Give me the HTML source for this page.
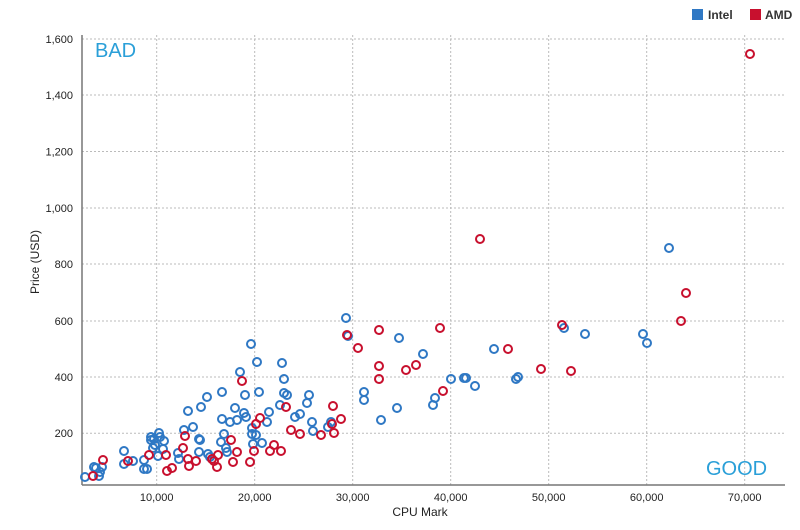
<!DOCTYPE html>
<html><head><meta charset="utf-8"><style>
html,body{margin:0;padding:0;background:#fff;}
svg{display:block;font-family:"Liberation Sans",sans-serif;}
</style></head><body>
<svg width="800" height="530" viewBox="0 0 800 530" xmlns="http://www.w3.org/2000/svg">
<g stroke="#bbb" stroke-width="1" stroke-dasharray="2,2">
<line x1="82" y1="39" x2="785" y2="39"/><line x1="82" y1="95" x2="785" y2="95"/>
<line x1="82" y1="151.5" x2="785" y2="151.5"/><line x1="82" y1="208" x2="785" y2="208"/>
<line x1="82" y1="264" x2="785" y2="264"/><line x1="82" y1="321" x2="785" y2="321"/>
<line x1="82" y1="377" x2="785" y2="377"/><line x1="82" y1="433.3" x2="785" y2="433.3"/>
<line x1="156.7" y1="35" x2="156.7" y2="485"/><line x1="254.7" y1="35" x2="254.7" y2="485"/>
<line x1="352.7" y1="35" x2="352.7" y2="485"/><line x1="450.7" y1="35" x2="450.7" y2="485"/>
<line x1="548.7" y1="35" x2="548.7" y2="485"/><line x1="646.7" y1="35" x2="646.7" y2="485"/>
<line x1="744.7" y1="35" x2="744.7" y2="485"/>
</g>
<line x1="82" y1="35" x2="82" y2="485" stroke="#777" stroke-width="1.5"/>
<line x1="82" y1="485" x2="785" y2="485" stroke="#777" stroke-width="1.5"/>
<g font-size="11" fill="#222" text-anchor="end">
<text x="73" y="43">1,600</text><text x="73" y="99">1,400</text><text x="73" y="155.5">1,200</text>
<text x="73" y="212">1,000</text><text x="73" y="268">800</text><text x="73" y="325">600</text>
<text x="73" y="381">400</text><text x="73" y="437">200</text>
</g>
<g font-size="11" fill="#222" text-anchor="middle">
<text x="156.7" y="501">10,000</text><text x="254.7" y="501">20,000</text><text x="352.7" y="501">30,000</text>
<text x="450.7" y="501">40,000</text><text x="548.7" y="501">50,000</text><text x="646.7" y="501">60,000</text>
<text x="744.7" y="501">70,000</text>
</g>
<text x="420" y="516" font-size="12" fill="#222" text-anchor="middle">CPU Mark</text>
<text transform="translate(39,262) rotate(-90)" font-size="12" fill="#222" text-anchor="middle">Price (USD)</text>
<text x="95" y="57" font-size="20" fill="#2a9fd8">BAD</text>
<text x="706" y="475" font-size="20" fill="#2a9fd8">GOOD</text>
<rect x="692" y="9" width="11" height="11" fill="#2f78c4"/>
<text x="708" y="19" font-size="12" font-weight="bold" fill="#333">Intel</text>
<rect x="750" y="9" width="11" height="11" fill="#c8102e"/>
<text x="765" y="19" font-size="12" font-weight="bold" fill="#333">AMD</text>
<g fill="none" stroke="#2f78c4" stroke-width="2">
<circle cx="85" cy="477" r="4"/><circle cx="94" cy="467" r="4"/><circle cx="96" cy="468" r="4"/><circle cx="99" cy="476" r="4"/><circle cx="102" cy="467" r="4"/><circle cx="100" cy="472" r="4"/><circle cx="124" cy="451" r="4"/><circle cx="124" cy="464" r="4"/><circle cx="133" cy="461" r="4"/><circle cx="144" cy="460" r="4"/><circle cx="144" cy="469" r="4"/><circle cx="147" cy="469" r="4"/><circle cx="151" cy="437" r="4"/><circle cx="151" cy="440" r="4"/><circle cx="154" cy="439" r="4"/><circle cx="155" cy="445" r="4"/><circle cx="159" cy="433" r="4"/><circle cx="160" cy="437" r="4"/><circle cx="164" cy="441" r="4"/><circle cx="163" cy="449" r="4"/><circle cx="158" cy="456" r="4"/><circle cx="153" cy="448" r="4"/><circle cx="178" cy="453" r="4"/><circle cx="179" cy="459" r="4"/><circle cx="184" cy="430" r="4"/><circle cx="193" cy="427" r="4"/><circle cx="188" cy="411" r="4"/><circle cx="199" cy="439" r="4"/><circle cx="200" cy="440" r="4"/><circle cx="201" cy="407" r="4"/><circle cx="199" cy="452" r="4"/><circle cx="207" cy="397" r="4"/><circle cx="208" cy="454" r="4"/><circle cx="210" cy="457" r="4"/><circle cx="222" cy="392" r="4"/><circle cx="222" cy="419" r="4"/><circle cx="224" cy="434" r="4"/><circle cx="221" cy="442" r="4"/><circle cx="226" cy="448" r="4"/><circle cx="227" cy="452" r="4"/><circle cx="230" cy="422" r="4"/><circle cx="235" cy="408" r="4"/><circle cx="237" cy="420" r="4"/><circle cx="244" cy="413" r="4"/><circle cx="246" cy="417" r="4"/><circle cx="245" cy="395" r="4"/><circle cx="240" cy="372" r="4"/><circle cx="252" cy="428" r="4"/><circle cx="252" cy="434" r="4"/><circle cx="253" cy="444" r="4"/><circle cx="257" cy="362" r="4"/><circle cx="256" cy="435" r="4"/><circle cx="259" cy="392" r="4"/><circle cx="262" cy="443" r="4"/><circle cx="267" cy="422" r="4"/><circle cx="269" cy="412" r="4"/><circle cx="280" cy="405" r="4"/><circle cx="282" cy="363" r="4"/><circle cx="284" cy="379" r="4"/><circle cx="284" cy="393" r="4"/><circle cx="287" cy="395" r="4"/><circle cx="295" cy="417" r="4"/><circle cx="300" cy="414" r="4"/><circle cx="309" cy="395" r="4"/><circle cx="307" cy="403" r="4"/><circle cx="312" cy="422" r="4"/><circle cx="313" cy="431" r="4"/><circle cx="328" cy="427" r="4"/><circle cx="331" cy="422" r="4"/><circle cx="364" cy="392" r="4"/><circle cx="364" cy="400" r="4"/><circle cx="381" cy="420" r="4"/><circle cx="397" cy="408" r="4"/><circle cx="251" cy="344" r="4"/><circle cx="346" cy="318" r="4"/><circle cx="348" cy="336" r="4"/><circle cx="399" cy="338" r="4"/><circle cx="423" cy="354" r="4"/><circle cx="433" cy="405" r="4"/><circle cx="435" cy="398" r="4"/><circle cx="451" cy="379" r="4"/><circle cx="464" cy="378" r="4"/><circle cx="466" cy="378" r="4"/><circle cx="475" cy="386" r="4"/><circle cx="494" cy="349" r="4"/><circle cx="516" cy="379" r="4"/><circle cx="518" cy="377" r="4"/><circle cx="564" cy="328" r="4"/><circle cx="585" cy="334" r="4"/><circle cx="643" cy="334" r="4"/><circle cx="647" cy="343" r="4"/><circle cx="669" cy="248" r="4"/>
</g>
<g fill="none" stroke="#c8102e" stroke-width="2">
<circle cx="93" cy="476" r="4"/><circle cx="103" cy="460" r="4"/><circle cx="128" cy="461" r="4"/><circle cx="149" cy="455" r="4"/><circle cx="166" cy="455" r="4"/><circle cx="167" cy="471" r="4"/><circle cx="172" cy="468" r="4"/><circle cx="183" cy="448" r="4"/><circle cx="185" cy="436" r="4"/><circle cx="188" cy="459" r="4"/><circle cx="189" cy="466" r="4"/><circle cx="196" cy="461" r="4"/><circle cx="212" cy="459" r="4"/><circle cx="214" cy="461" r="4"/><circle cx="217" cy="467" r="4"/><circle cx="218" cy="455" r="4"/><circle cx="231" cy="440" r="4"/><circle cx="233" cy="462" r="4"/><circle cx="237" cy="452" r="4"/><circle cx="242" cy="381" r="4"/><circle cx="250" cy="462" r="4"/><circle cx="254" cy="451" r="4"/><circle cx="256" cy="424" r="4"/><circle cx="260" cy="418" r="4"/><circle cx="270" cy="451" r="4"/><circle cx="274" cy="445" r="4"/><circle cx="281" cy="451" r="4"/><circle cx="286" cy="407" r="4"/><circle cx="291" cy="430" r="4"/><circle cx="300" cy="434" r="4"/><circle cx="321" cy="435" r="4"/><circle cx="332" cy="424" r="4"/><circle cx="334" cy="433" r="4"/><circle cx="333" cy="406" r="4"/><circle cx="341" cy="419" r="4"/><circle cx="379" cy="379" r="4"/><circle cx="379" cy="366" r="4"/><circle cx="379" cy="330" r="4"/><circle cx="347" cy="335" r="4"/><circle cx="358" cy="348" r="4"/><circle cx="406" cy="370" r="4"/><circle cx="416" cy="365" r="4"/><circle cx="440" cy="328" r="4"/><circle cx="443" cy="391" r="4"/><circle cx="480" cy="239" r="4"/><circle cx="508" cy="349" r="4"/><circle cx="541" cy="369" r="4"/><circle cx="562" cy="325" r="4"/><circle cx="571" cy="371" r="4"/><circle cx="681" cy="321" r="4"/><circle cx="686" cy="293" r="4"/><circle cx="750" cy="54" r="4"/>
</g>
</svg>
</body></html>
